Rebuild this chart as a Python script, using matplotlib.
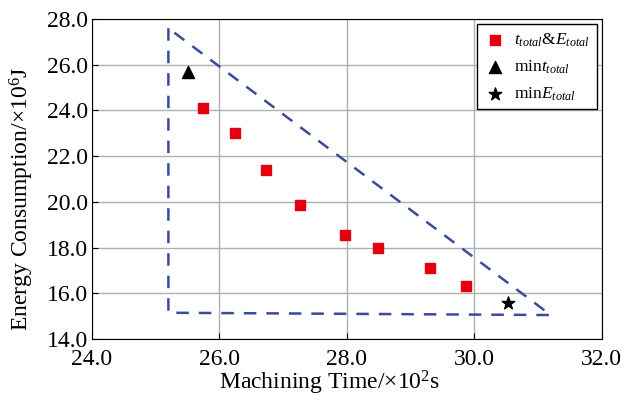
import matplotlib.pyplot as plt
import numpy as np

plt.rcParams['font.family'] = ['Liberation Serif', 'DejaVu Serif']
plt.rcParams['mathtext.fontset'] = 'custom'
plt.rcParams['mathtext.rm'] = 'Liberation Serif'
plt.rcParams['mathtext.it'] = 'Liberation Serif:italic'

# data
sq_time = [25.74, 26.24, 26.73, 27.26, 27.97, 28.49, 29.30, 29.87]
sq_energy = [24.11, 23.01, 21.39, 19.86, 18.55, 17.98, 17.11, 16.32]
min_t = [25.51, 25.68]
min_e = [30.53, 15.58]
# dashed bounding triangle
tri_x = [25.2, 25.2, 31.2, 25.2]
tri_y = [27.6, 15.15, 15.05, 27.6]

fig = plt.figure(figsize=(6.21, 3.97), dpi=100)
ax = fig.add_axes([0.148, 0.146, 0.821, 0.806])

ax.plot(tri_x, tri_y, '--', color='#3b4b9b', lw=1.8, dashes=(5, 4), zorder=2)
ax.scatter(sq_time, sq_energy, marker='s', s=60, color='#e3000f', label='$t_{total}$&$E_{total}$', zorder=3)
ax.scatter(min_t[0], min_t[1], marker='^', s=75, color='black', label='min$t_{total}$', zorder=3)
ax.scatter(min_e[0], min_e[1], marker='*', s=90, color='black', label='min$E_{total}$', zorder=3)

ax.set_xlim(24, 32)
ax.set_ylim(14, 28)
ax.set_xticks(np.arange(24, 32.1, 2))
ax.set_yticks(np.arange(14, 28.1, 2))
ax.xaxis.set_major_formatter(plt.FormatStrFormatter('%.1f'))
ax.yaxis.set_major_formatter(plt.FormatStrFormatter('%.1f'))
ax.tick_params(direction='in', labelsize=17, length=4)
ax.tick_params(axis='x', pad=7)
ax.tick_params(axis='y', pad=3)
ax.grid(True, color='#b0b0b0', lw=1)
ax.set_axisbelow(True)

ax.set_xlabel('Machining Time/×10$^2$s', fontsize=17, va='center')
ax.set_ylabel('Energy Consumption/×10$^6$J', fontsize=17, va='center')
ax.xaxis.set_label_coords(0.467, -0.136)
ax.yaxis.set_label_coords(-0.137, 0.44)

leg = ax.legend(loc='upper right', fontsize=12.5, fancybox=False, edgecolor='black',
                framealpha=1, handletextpad=0.5, handlelength=1.2, borderpad=0.4,
                labelspacing=0.55, borderaxespad=0.3)
leg.get_frame().set_linewidth(1)

plt.savefig('out.png', dpi=100)
